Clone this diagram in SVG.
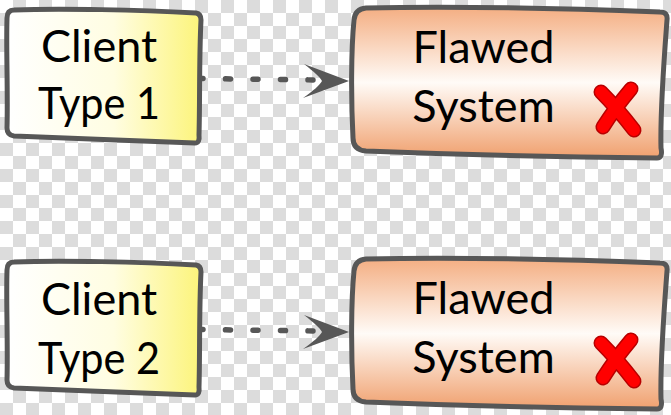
<svg xmlns="http://www.w3.org/2000/svg" width="671" height="415" viewBox="0 0 671 415">
  <style>
    .outline { stroke: #575757; stroke-width: 5; stroke-linejoin: round; stroke-linecap: round; }
    .label { font-family: Lato, "Open Sans", "Liberation Sans", sans-serif; font-size: 45px; font-weight: 400; fill: #000; text-anchor: middle; }
    .dash { fill: none; stroke: #575757; stroke-width: 5.5; stroke-linecap: round; stroke-dasharray: 5 22.5; }
    .head { fill: #575757; }
    .xo { fill: none; stroke: #b80000; stroke-width: 15; stroke-linecap: round; }
    .xi { fill: none; stroke: #ff0000; stroke-width: 12; stroke-linecap: round; }
  </style>
  <defs>
    <pattern id="checker" patternUnits="userSpaceOnUse" width="26" height="26">
      <rect width="26" height="26" fill="#ffffff"/>
      <rect x="13" y="0" width="13" height="13" fill="#dcdcdc"/>
      <rect x="0" y="13" width="13" height="13" fill="#dcdcdc"/>
    </pattern>
    <linearGradient id="yellow" x1="0" y1="0" x2="1" y2="0">
      <stop offset="0" stop-color="#ffffff"/>
      <stop offset="0.55" stop-color="#fffde2"/>
      <stop offset="1" stop-color="#fcf47a"/>
    </linearGradient>
    <linearGradient id="orange" x1="0" y1="0" x2="0" y2="1">
      <stop offset="0" stop-color="#f4ae82"/>
      <stop offset="0.5" stop-color="#fffbf7"/>
      <stop offset="1" stop-color="#f0a06e"/>
    </linearGradient>
  </defs>

  <rect width="671" height="415" fill="url(#checker)"/>

  <g id="connectors">
    <g id="edge1">
      <path class="dash" d="M198,78.5 L318,80"/>
      <path class="head" d="M349,81 L304,64 C314,72 320,77 322,81 C320,85 313,91 303,98 Z"/>
    </g>
    <g id="edge2" transform="translate(0,251)">
      <path class="dash" d="M198,78.5 L318,80"/>
      <path class="head" d="M349,81 L304,64 C314,72 320,77 322,81 C320,85 313,91 303,98 Z"/>
    </g>
  </g>

  <g id="client1">
    <path class="outline" fill="url(#yellow)" d="M14,10 C60,8 140,10 196,13 Q201,14 201,20 C199,60 200,100 199,135 Q200,143 195,143 C140,141 60,138 14,136 Q7,135 7,128 C8,90 6,50 7,18 Q7,10 14,10 Z"/>
    <text class="label" x="99" y="62">Client</text>
    <text class="label" x="99" y="119" textLength="122" lengthAdjust="spacingAndGlyphs">Type 1</text>
  </g>

  <g id="flawed1">
    <path class="outline" fill="url(#orange)" d="M366,8 C450,6 580,9 660,12 Q668,12 667,20 C664,60 660,110 661,148 Q663,158 657,158 C560,157 440,154 366,151 Q353,150 353,138 C351,100 351,50 354,20 Q355,9 366,8 Z"/>
    <text class="label" x="483.5" y="63">Flawed</text>
    <text class="label" x="483.5" y="122">System</text>
    <path class="xo" d="M601,92 Q617,108 634,130 M631,89 Q615,108 603,127"/>
    <path class="xi" d="M601,92 Q617,108 634,130 M631,89 Q615,108 603,127"/>
  </g>

  <g id="client2" transform="translate(0,252)">
    <path class="outline" fill="url(#yellow)" d="M14,10 C60,8 140,10 196,13 Q201,14 201,20 C199,60 200,100 199,135 Q200,143 195,143 C140,141 60,138 14,136 Q7,135 7,128 C8,90 6,50 7,18 Q7,10 14,10 Z"/>
    <text class="label" x="99" y="63">Client</text>
    <text class="label" x="99" y="122" textLength="122" lengthAdjust="spacingAndGlyphs">Type 2</text>
  </g>

  <g id="flawed2" transform="translate(0,251)">
    <path class="outline" fill="url(#orange)" d="M366,8 C450,6 580,9 660,12 Q668,12 667,20 C664,60 660,110 661,148 Q663,158 657,158 C560,157 440,154 366,151 Q353,150 353,138 C351,100 351,50 354,20 Q355,9 366,8 Z"/>
    <text class="label" x="483.5" y="63">Flawed</text>
    <text class="label" x="483.5" y="122">System</text>
    <path class="xo" d="M601,92 Q617,108 634,130 M631,89 Q615,108 603,127"/>
    <path class="xi" d="M601,92 Q617,108 634,130 M631,89 Q615,108 603,127"/>
  </g>
</svg>
